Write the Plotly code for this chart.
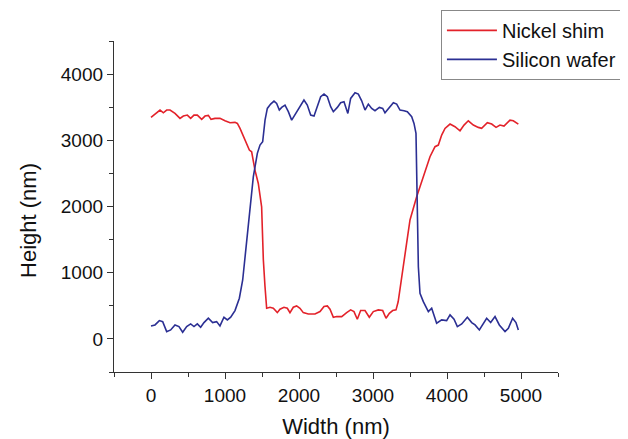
import plotly.graph_objects as go

nickel_x = [0, 77, 122, 167, 212, 257, 324, 392, 437, 491, 536, 581, 626, 685, 730, 775, 811, 865, 932, 1000,
            1068, 1135, 1167, 1203, 1248, 1293, 1329, 1360, 1405, 1450, 1473, 1495, 1505, 1518, 1540, 1563,
            1608, 1653, 1707, 1743, 1797, 1842, 1878, 1923, 1968, 2013, 2058, 2126, 2216, 2284, 2338, 2383,
            2419, 2464, 2509, 2577, 2644, 2698, 2743, 2788, 2833, 2892, 2950, 3004, 3072, 3131, 3176, 3221,
            3266, 3311, 3340, 3365, 3410, 3455, 3500, 3545, 3590, 3635, 3680, 3725, 3770, 3838, 3883, 3928,
            3973, 4041, 4108, 4176, 4230, 4288, 4356, 4423, 4468, 4545, 4604, 4663, 4716, 4770, 4851, 4896,
            4964]
nickel_y = [3346, 3416, 3457, 3416, 3457, 3457, 3406, 3331, 3366, 3381, 3331, 3381, 3381, 3316, 3366, 3376,
            3316, 3331, 3331, 3296, 3266, 3271, 3255, 3180, 3054, 2928, 2852, 2827, 2550, 2348, 2197, 1995,
            1645, 1200, 800, 463, 478, 463, 397, 448, 478, 463, 397, 478, 498, 463, 397, 377, 377, 413, 488,
            498, 448, 327, 337, 337, 397, 438, 413, 297, 428, 428, 327, 413, 438, 428, 312, 387, 428, 438,
            560, 740, 1100, 1450, 1796, 1990, 2148, 2300, 2450, 2600, 2752, 2903, 2928, 3079, 3180, 3245,
            3205, 3144, 3230, 3295, 3230, 3195, 3180, 3265, 3245, 3195, 3230, 3215, 3305, 3295, 3245]

silicon_x = [0, 54, 113, 158, 212, 266, 324, 378, 428, 482, 536, 581, 626, 671, 716, 775, 833, 887, 932, 986,
             1032, 1077, 1135, 1194, 1239, 1284, 1315, 1350, 1383, 1437, 1473, 1509, 1541, 1572, 1617, 1662,
             1698, 1734, 1766, 1811, 1856, 1901, 1968, 2022, 2067, 2112, 2158, 2203, 2248, 2293, 2338, 2383,
             2428, 2464, 2518, 2563, 2608, 2640, 2660, 2698, 2757, 2802, 2847, 2892, 2937, 2982, 3027, 3086,
             3131, 3162, 3207, 3275, 3320, 3365, 3419, 3464, 3523, 3554, 3581, 3599, 3613, 3635, 3680, 3748,
             3793, 3860, 3928, 3995, 4041, 4095, 4140, 4199, 4275, 4334, 4379, 4437, 4491, 4536, 4590, 4649,
             4707, 4784, 4829, 4887, 4932, 4964]
silicon_y = [196, 211, 277, 261, 110, 136, 211, 186, 100, 186, 226, 186, 226, 176, 246, 312, 246, 261, 196,
             327, 287, 327, 428, 614, 890, 1393, 1746, 2100, 2450, 2803, 2928, 2978, 3305, 3482, 3547, 3592,
             3557, 3457, 3497, 3532, 3432, 3305, 3432, 3532, 3608, 3532, 3381, 3366, 3507, 3658, 3698, 3658,
             3507, 3432, 3497, 3567, 3582, 3450, 3406, 3633, 3718, 3698, 3597, 3457, 3547, 3482, 3447, 3497,
             3482, 3416, 3482, 3567, 3547, 3457, 3447, 3432, 3356, 3255, 3104, 2098, 1091, 690, 563, 412,
             463, 237, 287, 277, 362, 297, 186, 226, 327, 247, 211, 136, 226, 312, 247, 337, 211, 110, 161,
             312, 247, 136]

x_ticks = [0, 1000, 2000, 3000, 4000, 5000]
y_ticks = [0, 1000, 2000, 3000, 4000]

FONT = "Liberation Sans, Arial, sans-serif"

fig = go.Figure()
fig.add_trace(go.Scatter(x=nickel_x, y=nickel_y, mode="lines", name="Nickel shim",
                         line=dict(color="#e3222a", width=1.6)))
fig.add_trace(go.Scatter(x=silicon_x, y=silicon_y, mode="lines", name="Silicon wafer",
                         line=dict(color="#2b2f93", width=1.6)))

axis_common = dict(
    showline=True, linecolor="#333333", linewidth=1.3, mirror=False,
    ticks="outside", ticklen=6, tickwidth=1.3, tickcolor="#333333",
    showgrid=False, zeroline=False,
    tickfont=dict(family=FONT, size=19, color="#111111"),
    minor=dict(ticks="outside", ticklen=4, tickwidth=1.2, tickcolor="#333333", dtick=500, showgrid=False),
)

fig.update_xaxes(range=[-500, 5500], tickvals=x_ticks, ticktext=[str(v) for v in x_ticks],
                 title=dict(text="Width (nm)", font=dict(family=FONT, size=22, color="#111111"), standoff=18),
                 **axis_common)
fig.update_yaxes(range=[-500, 4500], tickvals=y_ticks, ticktext=[str(v) for v in y_ticks],
                 **axis_common)

# page body has an 8px margin; figure size/margins compensate so plot area sits where the reference has it
fig.update_layout(
    width=620, height=431,
    margin=dict(l=106, r=70, t=33, b=67, autoexpand=False),
    plot_bgcolor="white", paper_bgcolor="white",
    font=dict(family=FONT, size=19, color="#111111"),
    legend=dict(x=1.144, xanchor="right", y=1.094, yanchor="top",
                bordercolor="#888888", borderwidth=1, bgcolor="white",
                font=dict(size=20), tracegroupgap=0, itemwidth=50),
    showlegend=True,
    annotations=[dict(text="Height (nm)", textangle=-90, xref="paper", yref="paper",
                      x=-0.194, y=0.459, xanchor="center", yanchor="middle", showarrow=False,
                      font=dict(family=FONT, size=22, color="#111111"))],
)

fig.write_html("out.html")
